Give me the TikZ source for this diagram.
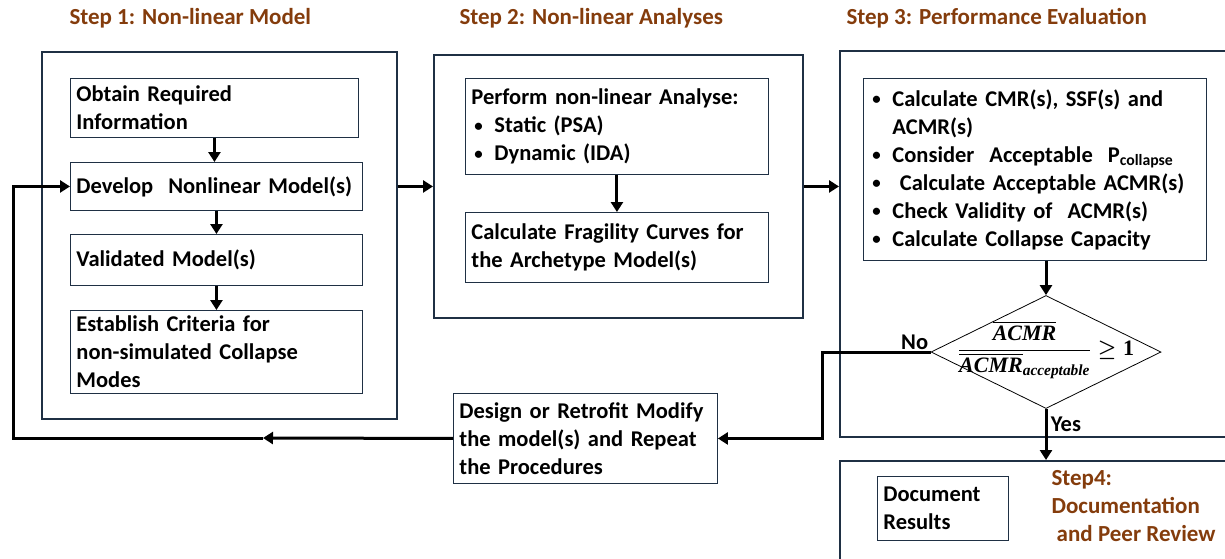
\documentclass[tikz,border=0pt]{standalone}
\usepackage[no-math]{fontspec}
\setmainfont{Carlito}
\newfontfamily\ratiofont{Liberation Serif}
\usepackage{amsmath}
\usepackage{bm}
\usetikzlibrary{positioning, shapes.geometric, arrows.meta}
\definecolor{framecol}{HTML}{1F3044}
\definecolor{stepcol}{HTML}{843C0C}
\newcommand{\bitem}{\hspace*{3pt}\makebox[20pt][l]{\raisebox{0.12ex}{\scalebox{0.75}{\textbullet}}}}
\newcommand{\bgap}{\hspace*{23pt}}
\newcommand{\rt}[1]{\text{\ratiofont\bfseries\itshape #1}}

\begin{document}
\begin{tikzpicture}[x=1pt, y=-1pt,
    every node/.style={font=\bfseries\fontsize{22.5}{28}\selectfont},
    frame/.style={draw=framecol, line width=1.6pt, anchor=north west, inner sep=0pt},
    stepbox/.style={draw=framecol, line width=0.9pt, anchor=north west, align=left, inner xsep=6pt, inner ysep=1pt},
    title/.style={text=stepcol, anchor=west, font=\bfseries\fontsize{23}{28}\selectfont},
    decision/.style={draw, diamond, line width=0.8pt, minimum width=230pt, minimum height=113pt, inner sep=0pt},
    flow/.style={line width=3pt, -{Triangle[length=10pt, width=12pt]}}]
    \useasboundingbox (0,0) rectangle (1225,558);
    \clip (0,0) rectangle (1225,558);

    \node[title] (step1) at (66,18) {Step 1: Non-linear Model};
    \node[title] (step2) at (456,18) {Step 2: Non-linear Analyses};
    \node[title] (step3) at (843,18) {Step 3: Performance Evaluation};

    \node[frame, minimum width=355pt, minimum height=367pt] (frame1) at (41,51) {};
    \node[frame, minimum width=369pt, minimum height=263pt] (frame2) at (433,54) {};
    \node[frame, minimum width=420pt, minimum height=386pt] (frame3) at (839,50) {};
    \node[frame, minimum width=420pt, minimum height=130pt] (frame4) at (839,460) {};

    \node[stepbox, text width=276pt, minimum height=59pt] (obtain) at (70,78) {Obtain Required\\Information};
    \node[stepbox, text width=280pt, minimum height=48pt] (develop) at (70,162) {Develop\ \ Nonlinear Model(s)};
    \node[stepbox, text width=280pt, minimum height=51pt] (validated) at (70,234) {Validated Model(s)\\[6pt]};
    \node[stepbox, text width=280pt, minimum height=83pt, inner ysep=0pt] (criteria) at (70,310) {Establish Criteria for\\non-simulated Collapse\\Modes};

    \node[stepbox, text width=291pt, minimum height=96pt] (perform) at (465,78) {Perform non-linear Analyse:\\\bitem Static (PSA)\\\bitem Dynamic (IDA)};
    \node[stepbox, text width=291pt, minimum height=70pt] (fragility) at (465,212) {Calculate Fragility Curves for\\the Archetype Model(s)};

    \node[stepbox, text width=331pt, minimum height=182pt] (evaluate) at (863,78) {\bitem Calculate CMR(s), SSF(s) and\\\bgap ACMR(s)\\\bitem Consider\ \ Acceptable\ \ P\textsubscript{collapse}\\\bitem\ Calculate Acceptable ACMR(s)\\\bitem Check Validity of\ \ ACMR(s)\\\bitem Calculate Collapse Capacity};

    \node[decision] (check) at (1046,352) {};
    \node[font=\boldmath\fontsize{22}{27}\selectfont] (ratio) at (1046,350) {$\displaystyle\frac{\overline{\rt{ACMR}}}{\overline{\rt{ACMR}}_{\rt{acceptable}}}\geq \text{\ratiofont\bfseries 1}$};

    \node[stepbox, text width=252pt, minimum height=90pt] (design) at (453,393) {Design or Retrofit Modify\\the model(s) and Repeat\\the Procedures};

    \node[stepbox, text width=119pt, minimum height=64pt] (document) at (877,476) {Document\\Results};
    \node[title, anchor=north west, align=left] (step4) at (1048,467) {Step4:\\Documentation\\\ and Peer Review};

    \draw[flow] (obtain.south) -- (obtain.south |- develop.north);
    \draw[flow] (develop.south) -- (develop.south |- validated.north);
    \draw[flow] (validated.south) -- (validated.south |- criteria.north);
    \draw[flow] (perform.south) -- (perform.south |- fragility.north);
    \draw[flow] (develop -| frame1.east) -- (develop -| frame2.west);
    \draw[flow] (develop -| frame2.east) -- (develop -| frame3.west);
    \draw[flow] (evaluate.south -| check.north) -- (check.north);
    \draw[flow] (check.south) -- (check.south |- frame4.north) node (yes) [pos=0.3, right] {Yes};
    \draw[flow] (check.west) node (no) [above left, inner sep=1pt] {No} -- ++(-108,0) |- (design.east);

    \coordinate (loopmid) at (263,438);
    \coordinate (loopcorner) at (13,438);
    \draw[flow] (design.west) -- (loopmid);
    \draw[flow] (loopmid) -- (loopcorner) |- (develop.west);
\end{tikzpicture}
\end{document}
